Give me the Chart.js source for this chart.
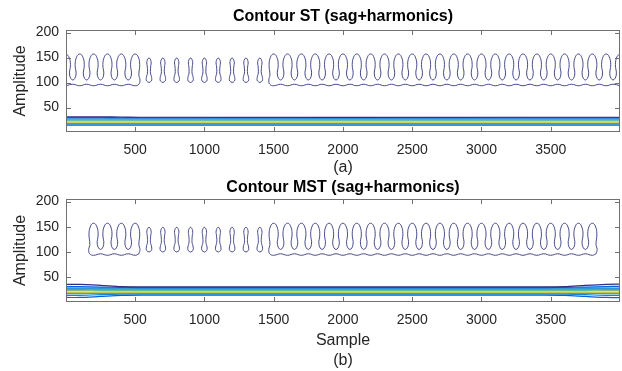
<!DOCTYPE html>
<html>
<head>
<meta charset="utf-8">
<script src="https://cdn.jsdelivr.net/npm/chart.js@4.4.1/dist/chart.umd.min.js"></script>
<style>
  html, body { margin: 0; padding: 0; background: #ffffff; }
  #wrap { position: relative; width: 622px; height: 371px; overflow: hidden; }
  canvas { position: absolute; left: 0; }
  #c1 { top: 0; }
  #c2 { top: 180px; }
</style>
</head>
<body>
<div id="wrap">
  <canvas id="c1" width="622" height="180"></canvas>
  <canvas id="c2" width="622" height="191"></canvas>
</div>
<script>
// ---------------- DATA ----------------
const xTicks = [500, 1000, 1500, 2000, 2500, 3000, 3500];
const yTicks = [50, 100, 150, 200];

// Centres (Sample) of the harmonic contour loops, panel (a) ST
const stPeaksA = [0, 100, 200, 300, 400, 500];
const stIslands = [600, 700, 800, 900, 1000, 1100, 1200, 1300, 1400];
const stPeaksB = [1500, 1600, 1700, 1800, 1900, 2000, 2100, 2200, 2300, 2400, 2500,
                  2600, 2700, 2800, 2900, 3000, 3100, 3200, 3300, 3400, 3500, 3600,
                  3700, 3800, 3900, 4000];

// Centres (Sample) of the harmonic contour loops, panel (b) MST
const mstPeaksA = [200, 300, 400, 500];
const mstIslands = [600, 700, 800, 900, 1000, 1100, 1200, 1300, 1400];
const mstPeaksB = [1500, 1600, 1700, 1800, 1900, 2000, 2100, 2200, 2300, 2400, 2500,
                   2600, 2700, 2800, 2900, 3000, 3100, 3200, 3300, 3400, 3500, 3600,
                   3700, 3800];

// Amplitude levels of the harmonic contour
const loopTop = 157;      // top of each loop
const loopShoulder = 152;
const loopBulge = 136;
const loopNeck = 115;
const loopTrough = 105;   // bottom of the U between loops
const baseLow = 93.5;     // wavy lower edge, under loops
const baseHigh = 96.5;    // wavy lower edge, under gaps
const islandBottom = 100;
const islandTop = 149;

// Fundamental (sag) band contour lines: Sample positions and Amplitude of each line
const bandX = [1, 100, 250, 400, 550, 3450, 3600, 3750, 3900, 4000];
const stBand1 = [31.5, 31.5, 31.5, 31, 30.5, 30.5, 30.5, 30.5, 30.5, 30.5];
const stBand2 = [30, 30, 30, 29.5, 29.5, 29.5, 29.5, 29.5, 29.5, 29.5];
const stBand3 = [28.5, 28.5, 28.5, 28.5, 28.5, 28.5, 28.5, 28.5, 28.5, 28.5];
const stBand4 = [26.5, 26.5, 26.5, 26.5, 26.5, 26.5, 26.5, 26.5, 26.5, 26.5];
const stBand5 = [24.5, 24.5, 24.5, 24.5, 24.5, 24.5, 24.5, 24.5, 24.5, 24.5];
const stBand6 = [23, 23, 23, 23, 23, 23, 23, 23, 23, 23];
const stBand7 = [22, 22, 22, 22, 22, 22, 22, 22, 22, 22];
const stBand8 = [21, 21, 21, 21, 21, 21, 21, 21, 21, 21];
const stBand9 = [19.5, 19.5, 19.5, 19.5, 19.5, 19.5, 19.5, 19.5, 19.5, 19.5];
const stBand10 = [18, 18, 18, 18, 18, 18, 18, 18, 18, 18];
const stBand11 = [16.5, 16.5, 16.5, 16.5, 16.5, 16.5, 16.5, 16.5, 16.5, 16.5];
const stBand12 = [14.5, 14.5, 14.5, 14.5, 14.5, 14.5, 14.5, 14.5, 14.5, 14.5];

const mstBand1 = [36, 36, 34, 31.5, 31, 31, 31.5, 34, 36, 36.5];
const mstBand2 = [31.5, 31.5, 30.5, 30, 29.5, 29.5, 30, 30.5, 31.5, 32];
const mstBand3 = [28.5, 28.5, 28.5, 28.5, 28.5, 28.5, 28.5, 28.5, 28.5, 28.5];
const mstBand4 = [26.5, 26.5, 26.5, 26.5, 26.5, 26.5, 26.5, 26.5, 26.5, 26.5];
const mstBand5 = [25, 25, 24.5, 24.5, 24.5, 24.5, 24.5, 24.5, 25, 25];
const mstBand6 = [23.5, 23.5, 23, 23, 23, 23, 23, 23, 23.5, 23.5];
const mstBand7 = [22, 22, 22, 22, 22, 22, 22, 22, 22, 22];
const mstBand8 = [21, 21, 21, 21, 21, 21, 21, 21, 21, 21];
const mstBand9 = [19.5, 19.5, 19.5, 19.5, 19.5, 19.5, 19.5, 19.5, 19.5, 19.5];
const mstBand10 = [17.5, 17.5, 18, 18, 18, 18, 18, 18, 17.5, 17.5];
const mstBand11 = [14, 14, 15.5, 16.5, 16.5, 16.5, 16.5, 15.5, 14, 14];
const mstBand12 = [10, 10, 12, 14, 14.5, 14.5, 14, 12, 10, 9.5];

const bandColors = ['#352a87', '#0363e1', '#1485d4', '#06a7c6', '#38b99e', '#d9ba56',
                    '#f9fb0e', '#fcce2e', '#92bf73', '#06a7c6', '#1485d4', '#0363e1'];
const harmonicColor = '#34377e';

// ---------------- helpers: build contour paths from the data ----------------
function loopPoints(c) {
  return [
    {x: c - 27, y: loopNeck}, {x: c - 33, y: loopBulge}, {x: c - 21, y: loopShoulder},
    {x: c, y: loopTop},
    {x: c + 21, y: loopShoulder}, {x: c + 33, y: loopBulge}, {x: c + 27, y: loopNeck}
  ];
}
function meanderTop(peaks) {
  const pts = [];
  peaks.forEach((c, i) => {
    pts.push(...loopPoints(c));
    if (i < peaks.length - 1) pts.push({x: (c + peaks[i + 1]) / 2, y: loopTrough});
  });
  return pts;
}
function baseLine(fromC, toC) { // from right to left
  const pts = [];
  for (let k = 0; ; k++) {
    const c = fromC - k * 50;
    if (c < toC) break;
    pts.push({x: c, y: (k % 2 === 0) ? baseLow : baseHigh});
  }
  return pts;
}
function closedMeander(peaks) {
  const first = peaks[0], last = peaks[peaks.length - 1];
  const pts = [];
  pts.push({x: last + 27, y: baseHigh});
  pts.push(...baseLine(last, first));
  pts.push({x: first - 28, y: baseHigh});
  pts.push({x: first - 35, y: loopTrough});
  pts.push(...meanderTop(peaks));
  pts.push({x: last + 35, y: loopTrough});
  pts.push({x: last + 27, y: baseHigh});
  return pts;
}
function islandPoints(c) {
  return [
    {x: c, y: islandBottom}, {x: c + 17, y: 103}, {x: c + 19, y: 110}, {x: c + 11, y: 119},
    {x: c + 12, y: 131}, {x: c + 15, y: 142}, {x: c, y: islandTop},
    {x: c - 15, y: 142}, {x: c - 12, y: 131}, {x: c - 11, y: 119}, {x: c - 19, y: 110},
    {x: c - 17, y: 103}, {x: c, y: islandBottom}
  ];
}
function lineDS(points, color, width, tension) {
  return {data: points, showLine: true, borderColor: color, borderWidth: width,
          pointRadius: 0, tension: tension, fill: false};
}
function bandDatasets(bands) {
  return bands.map((ys, i) => lineDS(ys.map((y, j) => ({x: bandX[j], y: y})), bandColors[i], 1.2, 0.3));
}

// Panel (a) harmonic contour: open curves reaching the plot edges
function stSegmentA() {
  const top = [];
  const p = stPeaksA;
  // partial loop at the left edge (right half only)
  top.push({x: p[0], y: loopTop}, {x: p[0] + 21, y: loopShoulder}, {x: p[0] + 33, y: loopBulge}, {x: p[0] + 27, y: loopNeck});
  top.push({x: (p[0] + p[1]) / 2, y: loopTrough});
  top.push(...meanderTop(p.slice(1)));
  const last = p[p.length - 1];
  top.push({x: last + 35, y: loopTrough}, {x: last + 27, y: baseHigh});
  top.push(...baseLine(last, p[0]));
  return top;
}
function stSegmentB() {
  const p = stPeaksB;
  const first = p[0], last = p[p.length - 1];
  const pts = [];
  pts.push(...baseLine(last, first));
  pts.push({x: first - 28, y: baseHigh}, {x: first - 35, y: loopTrough});
  pts.push(...meanderTop(p.slice(0, -1)));
  pts.push({x: (p[p.length - 2] + last) / 2, y: loopTrough});
  // partial loop at the right edge (left half only)
  pts.push({x: last - 27, y: loopNeck}, {x: last - 33, y: loopBulge}, {x: last - 21, y: loopShoulder}, {x: last, y: loopTop});
  return pts;
}

// ---------------- box + inside ticks (MATLAB style) ----------------
const boxPlugin = {
  id: 'box',
  afterDatasetsDraw(chart) {
    const {ctx, chartArea: a, scales: {x, y}} = chart;
    ctx.save();
    ctx.strokeStyle = '#707070';
    ctx.lineWidth = 1;
    ctx.strokeRect(Math.round(a.left) + 0.5, Math.round(a.top) + 0.5,
                   Math.round(a.right - a.left) - 1, Math.round(a.bottom - a.top) - 1);
    ctx.beginPath();
    xTicks.forEach(v => {
      const px = Math.round(x.getPixelForValue(v)) + 0.5;
      ctx.moveTo(px, a.bottom); ctx.lineTo(px, a.bottom - 5);
      ctx.moveTo(px, a.top); ctx.lineTo(px, a.top + 5);
    });
    yTicks.forEach(v => {
      const py = Math.round(y.getPixelForValue(v)) + 0.5;
      ctx.moveTo(a.left, py); ctx.lineTo(a.left + 5, py);
      ctx.moveTo(a.right, py); ctx.lineTo(a.right - 5, py);
    });
    ctx.stroke();
    ctx.restore();
  }
};

const FONT = "'Liberation Sans', Arial, Helvetica, sans-serif";

function makeOptions(titleText, xTitle, xScaleHeight, titlePad, xTitleFont, xTitlePad) {
  return {
    responsive: false,
    animation: false,
    devicePixelRatio: 1,
    layout: {padding: {left: 0, right: 2, top: 0, bottom: 0}},
    plugins: {
      legend: {display: false},
      tooltip: {enabled: false},
      title: {
        display: true, text: titleText, fullSize: false, color: '#000',
        font: {family: FONT, size: 16, weight: 'bold', lineHeight: 1},
        padding: titlePad
      }
    },
    scales: {
      x: {
        type: 'linear', min: 1, max: 4000,
        afterBuildTicks: s => { s.ticks = xTicks.map(v => ({value: v})); },
        afterFit: s => { s.height = xScaleHeight; },
        grid: {display: false, drawTicks: false},
        border: {display: false},
        ticks: {padding: 10, color: '#262626', font: {family: FONT, size: 14}, callback: v => String(v), maxRotation: 0},
        title: {display: true, text: xTitle, color: '#262626', font: xTitleFont, padding: xTitlePad}
      },
      y: {
        type: 'linear', min: 1, max: 205,
        afterBuildTicks: s => { s.ticks = yTicks.map(v => ({value: v})); },
        afterFit: s => { s.width = 66; },
        grid: {display: false, drawTicks: false},
        border: {display: false},
        ticks: {padding: 7, color: '#262626', font: {family: FONT, size: 14}, callback: v => String(v)},
        title: {display: true, text: 'Amplitude', color: '#262626', font: {family: FONT, size: 16, lineHeight: 1.2}, padding: {top: 11, bottom: 0}}
      }
    }
  };
}

// ---------------- panel (a) ----------------
const stDatasets = [
  ...bandDatasets([stBand1, stBand2, stBand3, stBand4, stBand5, stBand6, stBand7, stBand8, stBand9, stBand10, stBand11, stBand12]),
  lineDS(stSegmentA(), harmonicColor, 0.9, 0.45),
  lineDS(stSegmentB(), harmonicColor, 0.9, 0.45),
  ...stIslands.map(c => lineDS(islandPoints(c), harmonicColor, 0.9, 0.45))
];
new Chart(document.getElementById('c1'), {
  type: 'scatter',
  data: {datasets: stDatasets},
  options: makeOptions('Contour ST (sag+harmonics)', '(a)', 48, {top: 9, bottom: 5},
                       {family: FONT, size: 16, lineHeight: 1.2}, {top: 0, bottom: 3}),
  plugins: [boxPlugin]
});

// ---------------- panel (b) ----------------
const mstDatasets = [
  ...bandDatasets([mstBand1, mstBand2, mstBand3, mstBand4, mstBand5, mstBand6, mstBand7, mstBand8, mstBand9, mstBand10, mstBand11, mstBand12]),
  lineDS(closedMeander(mstPeaksA), harmonicColor, 0.9, 0.45),
  lineDS(closedMeander(mstPeaksB), harmonicColor, 0.9, 0.45),
  ...mstIslands.map(c => lineDS(islandPoints(c), harmonicColor, 0.9, 0.45))
];
new Chart(document.getElementById('c2'), {
  type: 'scatter',
  data: {datasets: mstDatasets},
  options: makeOptions('Contour MST (sag+harmonics)', ['Sample', '(b)'], 69, {top: 0, bottom: 3},
                       {family: FONT, size: 16, lineHeight: '20px'}, {top: 0, bottom: 0}),
  plugins: [boxPlugin]
});
</script>
</body>
</html>
